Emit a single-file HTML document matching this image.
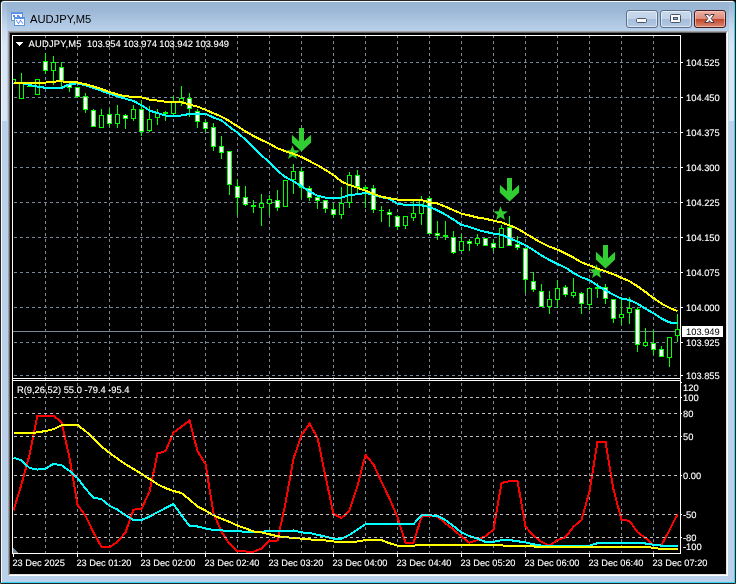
<!DOCTYPE html>
<html lang="en">
<head>
<meta charset="utf-8">
<title>AUDJPY,M5</title>
<style>
html,body{margin:0;padding:0;}
body{width:738px;height:584px;overflow:hidden;background:#fff;position:relative;font-family:"Liberation Sans",Arial,sans-serif;}
.corner{position:absolute;top:0;width:4px;height:4px;background:#000;}
.win{position:absolute;left:0;top:0;width:734px;height:582px;border:1px solid #262626;border-radius:4px 4px 0 0;
  background:linear-gradient(to bottom,#98b4d3 0px,#9db8d7 10px,#b4cce6 26px,#b9d1ea 31px,#b9d1ea 100%);overflow:hidden;}
.hl{position:absolute;left:0;top:0;width:732px;height:580px;border-style:solid;border-width:1px;border-color:#f7fafd #35d3f2 #35d3f2 #f7fafd;border-radius:3px 3px 0 0;}
.sl{position:absolute;top:1px;width:5px;height:119px;background:linear-gradient(to bottom,rgba(217,230,244,.05) 0,rgba(217,230,244,.4) 22px,rgba(217,230,244,1) 44px,#d9e6f4 100%);}
.title{position:absolute;left:29px;top:10px;height:16px;line-height:16px;font-size:11.2px;color:#000;white-space:nowrap;letter-spacing:0;}
.icon{position:absolute;left:10px;top:11px;width:14px;height:14px;}
.btn{position:absolute;top:9px;width:30px;height:16px;border:1px solid #5b6f8b;border-radius:3px;
  background:linear-gradient(to bottom,#c9d9ec 0,#c1d3e9 48%,#a6bedb 52%,#b2c8e2 100%);box-shadow:inset 0 0 0 1px rgba(255,255,255,.55);}
.btn.close{border-color:#431a20;background:linear-gradient(to bottom,#ecb1a4 0,#dc8b7c 48%,#c4452a 52%,#d88a73 100%);box-shadow:inset 0 0 0 1px rgba(255,210,200,.6);}
.btn svg{position:absolute;left:0;top:0;}
.client{position:absolute;left:7px;top:30px;width:718px;height:543px;border-style:solid;border-width:1px;border-color:#a0a0a0 #fff #fff #a0a0a0;}
.client2{position:absolute;left:0;top:0;width:716px;height:541px;border-style:solid;border-width:1px;border-color:#646464 #e3e3e3 #e3e3e3 #646464;background:#000;}
.chart{position:absolute;left:0;top:0;display:block;}
</style>
</head>
<body>
<div class="corner" style="left:0"></div><div class="corner" style="left:732px"></div>
<div class="win">
  <div class="hl"></div>
  <div class="sl" style="left:1px"></div><div class="sl" style="left:728px"></div>
  <svg class="icon" width="14" height="14" viewBox="0 0 14 14">
    <g shape-rendering="crispEdges">
    <rect x="0" y="0" width="12" height="9" fill="#5a90f8"/>
    <rect x="0.5" y="0.5" width="11" height="8" fill="none" stroke="#5c9fb0" stroke-dasharray="1 1"/>
    <rect x="1" y="2" width="10" height="6" fill="#fff"/>
    <rect x="2" y="3" width="2" height="2" fill="#5b8cf5"/><rect x="6" y="3" width="2" height="2" fill="#5b8cf5"/><rect x="8" y="4" width="1" height="1" fill="#5b8cf5"/>
    <rect x="3" y="5" width="11" height="9" fill="#5a90f8"/>
    <rect x="3.5" y="5.5" width="10" height="8" fill="none" stroke="#5c9fb0" stroke-dasharray="1 1"/>
    <rect x="4" y="7" width="9" height="6" fill="#fff"/>
    </g>
    <polyline points="5.3,8.3 7.5,11.5 9.5,8.5 11.7,11.5" fill="none" stroke="#4a7df0" stroke-width="1.1" stroke-dasharray="1.2 0.5"/>
  </svg>
  <div class="title">AUDJPY,M5</div>
  <div class="btn" style="left:625px"><svg width="30" height="16" viewBox="0 0 30 16"><rect x="9.5" y="7.5" width="10" height="4" rx="1" fill="#fafafa" stroke="#4a5568"/></svg></div>
  <div class="btn" style="left:659px"><svg width="30" height="16" viewBox="0 0 30 16"><rect x="9.5" y="3.5" width="10" height="8" rx="1" fill="#fafafa" stroke="#4a5568"/><rect x="12.5" y="6.5" width="4" height="2" fill="#8fa9cc" stroke="#4a5568"/></svg></div>
  <div class="btn close" style="left:693px"><svg width="30" height="16" viewBox="0 0 30 16"><path d="M9.8 3.5h3.5l1.2 1.8 1.2-1.8h3.5l-3 4 3 4h-3.5l-1.2-1.8-1.2 1.8h-3.5l3-4z" fill="#f8f8f8" stroke="#4a3a44" stroke-width="1" stroke-linejoin="round"/></svg></div>
  <div class="client"><div class="client2"><svg class="chart" width="716" height="541" viewBox="10 33 716 541" shape-rendering="crispEdges" text-rendering="geometricPrecision"><defs><clipPath id="cm"><rect x="13" y="36" width="667" height="342"/></clipPath><clipPath id="ci"><rect x="13" y="381" width="667" height="172"/></clipPath></defs><g stroke="#778899" stroke-width="1" stroke-dasharray="3 3" fill="none"><line x1="45.5" y1="35" x2="45.5" y2="553"/><line x1="77.5" y1="35" x2="77.5" y2="553"/><line x1="109.5" y1="35" x2="109.5" y2="553"/><line x1="141.5" y1="35" x2="141.5" y2="553"/><line x1="173.5" y1="35" x2="173.5" y2="553"/><line x1="205.5" y1="35" x2="205.5" y2="553"/><line x1="237.5" y1="35" x2="237.5" y2="553"/><line x1="269.5" y1="35" x2="269.5" y2="553"/><line x1="301.5" y1="35" x2="301.5" y2="553"/><line x1="333.5" y1="35" x2="333.5" y2="553"/><line x1="365.5" y1="35" x2="365.5" y2="553"/><line x1="397.5" y1="35" x2="397.5" y2="553"/><line x1="429.5" y1="35" x2="429.5" y2="553"/><line x1="461.5" y1="35" x2="461.5" y2="553"/><line x1="493.5" y1="35" x2="493.5" y2="553"/><line x1="525.5" y1="35" x2="525.5" y2="553"/><line x1="557.5" y1="35" x2="557.5" y2="553"/><line x1="589.5" y1="35" x2="589.5" y2="553"/><line x1="621.5" y1="35" x2="621.5" y2="553"/><line x1="653.5" y1="35" x2="653.5" y2="553"/><line x1="14" y1="62.5" x2="680" y2="62.5"/><line x1="14" y1="97.5" x2="680" y2="97.5"/><line x1="14" y1="132.5" x2="680" y2="132.5"/><line x1="14" y1="167.5" x2="680" y2="167.5"/><line x1="14" y1="202.5" x2="680" y2="202.5"/><line x1="14" y1="237.5" x2="680" y2="237.5"/><line x1="14" y1="272.5" x2="680" y2="272.5"/><line x1="14" y1="307.5" x2="680" y2="307.5"/><line x1="14" y1="342.5" x2="680" y2="342.5"/><line x1="14" y1="375.5" x2="680" y2="375.5"/></g>
<line x1="13" y1="331.5" x2="680" y2="331.5" stroke="#778899" stroke-width="1"/>
<g clip-path="url(#cm)"><rect x="13" y="79" width="1" height="5" fill="#00ff00"/><rect x="11" y="79" width="5" height="5" fill="#00ff00"/><rect x="12" y="80" width="3" height="3" fill="#000"/><rect x="21" y="73" width="1" height="26" fill="#00ff00"/><rect x="19" y="83" width="5" height="16" fill="#00ff00"/><rect x="20" y="84" width="3" height="14" fill="#000"/><rect x="29" y="86" width="1" height="1" fill="#00ff00"/><rect x="27" y="86" width="5" height="1" fill="#00ff00"/><rect x="37" y="79" width="1" height="16" fill="#00ff00"/><rect x="35" y="79" width="5" height="16" fill="#00ff00"/><rect x="36" y="80" width="3" height="14" fill="#000"/><rect x="45" y="53" width="1" height="21" fill="#00ff00"/><rect x="43" y="61" width="5" height="10" fill="#00ff00"/><rect x="44" y="62" width="3" height="8" fill="#fff"/><rect x="53" y="56" width="1" height="29" fill="#00ff00"/><rect x="51" y="62" width="5" height="9" fill="#00ff00"/><rect x="52" y="63" width="3" height="7" fill="#000"/><rect x="61" y="62" width="1" height="25" fill="#00ff00"/><rect x="59" y="67" width="5" height="14" fill="#00ff00"/><rect x="60" y="68" width="3" height="12" fill="#fff"/><rect x="69" y="81" width="1" height="11" fill="#00ff00"/><rect x="67" y="84" width="5" height="4" fill="#00ff00"/><rect x="68" y="85" width="3" height="2" fill="#fff"/><rect x="77" y="87" width="1" height="11" fill="#00ff00"/><rect x="75" y="87" width="5" height="10" fill="#00ff00"/><rect x="76" y="88" width="3" height="8" fill="#fff"/><rect x="85" y="93" width="1" height="20" fill="#00ff00"/><rect x="83" y="96" width="5" height="14" fill="#00ff00"/><rect x="84" y="97" width="3" height="12" fill="#fff"/><rect x="93" y="109" width="1" height="18" fill="#00ff00"/><rect x="91" y="110" width="5" height="17" fill="#00ff00"/><rect x="92" y="111" width="3" height="15" fill="#fff"/><rect x="101" y="109" width="1" height="19" fill="#00ff00"/><rect x="99" y="115" width="5" height="13" fill="#00ff00"/><rect x="100" y="116" width="3" height="11" fill="#000"/><rect x="109" y="109" width="1" height="18" fill="#00ff00"/><rect x="107" y="114" width="5" height="10" fill="#00ff00"/><rect x="108" y="115" width="3" height="8" fill="#fff"/><rect x="117" y="105" width="1" height="23" fill="#00ff00"/><rect x="115" y="114" width="5" height="10" fill="#00ff00"/><rect x="116" y="115" width="3" height="8" fill="#000"/><rect x="125" y="114" width="1" height="15" fill="#00ff00"/><rect x="123" y="115" width="5" height="4" fill="#00ff00"/><rect x="124" y="116" width="3" height="2" fill="#fff"/><rect x="133" y="105" width="1" height="16" fill="#00ff00"/><rect x="131" y="109" width="5" height="10" fill="#00ff00"/><rect x="132" y="110" width="3" height="8" fill="#000"/><rect x="141" y="100" width="1" height="36" fill="#00ff00"/><rect x="139" y="109" width="5" height="23" fill="#00ff00"/><rect x="140" y="110" width="3" height="21" fill="#fff"/><rect x="149" y="106" width="1" height="26" fill="#00ff00"/><rect x="147" y="119" width="5" height="12" fill="#00ff00"/><rect x="148" y="120" width="3" height="10" fill="#000"/><rect x="157" y="109" width="1" height="16" fill="#00ff00"/><rect x="155" y="113" width="5" height="5" fill="#00ff00"/><rect x="156" y="114" width="3" height="3" fill="#000"/><rect x="165" y="111" width="1" height="10" fill="#00ff00"/><rect x="163" y="112" width="5" height="2" fill="#00ff00"/><rect x="173" y="96" width="1" height="18" fill="#00ff00"/><rect x="171" y="102" width="5" height="12" fill="#00ff00"/><rect x="172" y="103" width="3" height="10" fill="#000"/><rect x="181" y="86" width="1" height="20" fill="#00ff00"/><rect x="179" y="98" width="5" height="4" fill="#00ff00"/><rect x="180" y="99" width="3" height="2" fill="#000"/><rect x="189" y="93" width="1" height="24" fill="#00ff00"/><rect x="187" y="98" width="5" height="11" fill="#00ff00"/><rect x="188" y="99" width="3" height="9" fill="#fff"/><rect x="197" y="109" width="1" height="19" fill="#00ff00"/><rect x="195" y="111" width="5" height="11" fill="#00ff00"/><rect x="196" y="112" width="3" height="9" fill="#fff"/><rect x="205" y="120" width="1" height="12" fill="#00ff00"/><rect x="203" y="122" width="5" height="7" fill="#00ff00"/><rect x="204" y="123" width="3" height="5" fill="#fff"/><rect x="213" y="123" width="1" height="28" fill="#00ff00"/><rect x="211" y="127" width="5" height="20" fill="#00ff00"/><rect x="212" y="128" width="3" height="18" fill="#fff"/><rect x="221" y="136" width="1" height="23" fill="#00ff00"/><rect x="219" y="146" width="5" height="7" fill="#00ff00"/><rect x="220" y="147" width="3" height="5" fill="#fff"/><rect x="229" y="151" width="1" height="44" fill="#00ff00"/><rect x="227" y="151" width="5" height="34" fill="#00ff00"/><rect x="228" y="152" width="3" height="32" fill="#fff"/><rect x="237" y="179" width="1" height="36" fill="#00ff00"/><rect x="235" y="186" width="5" height="12" fill="#00ff00"/><rect x="236" y="187" width="3" height="10" fill="#fff"/><rect x="245" y="186" width="1" height="20" fill="#00ff00"/><rect x="243" y="197" width="5" height="8" fill="#00ff00"/><rect x="244" y="198" width="3" height="6" fill="#fff"/><rect x="253" y="200" width="1" height="13" fill="#00ff00"/><rect x="251" y="205" width="5" height="2" fill="#00ff00"/><rect x="261" y="194" width="1" height="32" fill="#00ff00"/><rect x="259" y="203" width="5" height="5" fill="#00ff00"/><rect x="260" y="204" width="3" height="3" fill="#000"/><rect x="269" y="195" width="1" height="20" fill="#00ff00"/><rect x="267" y="199" width="5" height="5" fill="#00ff00"/><rect x="268" y="200" width="3" height="3" fill="#000"/><rect x="277" y="190" width="1" height="21" fill="#00ff00"/><rect x="275" y="200" width="5" height="8" fill="#00ff00"/><rect x="276" y="201" width="3" height="6" fill="#fff"/><rect x="285" y="180" width="1" height="27" fill="#00ff00"/><rect x="283" y="180" width="5" height="27" fill="#00ff00"/><rect x="284" y="181" width="3" height="25" fill="#000"/><rect x="293" y="164" width="1" height="30" fill="#00ff00"/><rect x="291" y="171" width="5" height="9" fill="#00ff00"/><rect x="292" y="172" width="3" height="7" fill="#000"/><rect x="301" y="167" width="1" height="32" fill="#00ff00"/><rect x="299" y="171" width="5" height="17" fill="#00ff00"/><rect x="300" y="172" width="3" height="15" fill="#fff"/><rect x="309" y="186" width="1" height="15" fill="#00ff00"/><rect x="307" y="188" width="5" height="10" fill="#00ff00"/><rect x="308" y="189" width="3" height="8" fill="#fff"/><rect x="317" y="196" width="1" height="13" fill="#00ff00"/><rect x="315" y="197" width="5" height="4" fill="#00ff00"/><rect x="316" y="198" width="3" height="2" fill="#fff"/><rect x="325" y="200" width="1" height="13" fill="#00ff00"/><rect x="323" y="200" width="5" height="9" fill="#00ff00"/><rect x="324" y="201" width="3" height="7" fill="#fff"/><rect x="333" y="203" width="1" height="15" fill="#00ff00"/><rect x="331" y="209" width="5" height="6" fill="#00ff00"/><rect x="332" y="210" width="3" height="4" fill="#fff"/><rect x="341" y="187" width="1" height="32" fill="#00ff00"/><rect x="339" y="203" width="5" height="12" fill="#00ff00"/><rect x="340" y="204" width="3" height="10" fill="#000"/><rect x="349" y="172" width="1" height="36" fill="#00ff00"/><rect x="347" y="175" width="5" height="28" fill="#00ff00"/><rect x="348" y="176" width="3" height="26" fill="#000"/><rect x="357" y="170" width="1" height="23" fill="#00ff00"/><rect x="355" y="175" width="5" height="12" fill="#00ff00"/><rect x="356" y="176" width="3" height="10" fill="#fff"/><rect x="365" y="185" width="1" height="23" fill="#00ff00"/><rect x="363" y="187" width="5" height="2" fill="#00ff00"/><rect x="373" y="185" width="1" height="28" fill="#00ff00"/><rect x="371" y="188" width="5" height="22" fill="#00ff00"/><rect x="372" y="189" width="3" height="20" fill="#fff"/><rect x="381" y="206" width="1" height="16" fill="#00ff00"/><rect x="379" y="210" width="5" height="1" fill="#00ff00"/><rect x="389" y="209" width="1" height="18" fill="#00ff00"/><rect x="387" y="212" width="5" height="3" fill="#00ff00"/><rect x="388" y="213" width="3" height="1" fill="#fff"/><rect x="397" y="215" width="1" height="15" fill="#00ff00"/><rect x="395" y="216" width="5" height="11" fill="#00ff00"/><rect x="396" y="217" width="3" height="9" fill="#fff"/><rect x="405" y="216" width="1" height="13" fill="#00ff00"/><rect x="403" y="216" width="5" height="10" fill="#00ff00"/><rect x="404" y="217" width="3" height="8" fill="#000"/><rect x="413" y="201" width="1" height="20" fill="#00ff00"/><rect x="411" y="213" width="5" height="5" fill="#00ff00"/><rect x="412" y="214" width="3" height="3" fill="#000"/><rect x="421" y="196" width="1" height="29" fill="#00ff00"/><rect x="419" y="200" width="5" height="14" fill="#00ff00"/><rect x="420" y="201" width="3" height="12" fill="#000"/><rect x="429" y="196" width="1" height="38" fill="#00ff00"/><rect x="427" y="198" width="5" height="36" fill="#00ff00"/><rect x="428" y="199" width="3" height="34" fill="#fff"/><rect x="437" y="221" width="1" height="19" fill="#00ff00"/><rect x="435" y="233" width="5" height="3" fill="#00ff00"/><rect x="436" y="234" width="3" height="1" fill="#fff"/><rect x="445" y="221" width="1" height="19" fill="#00ff00"/><rect x="443" y="235" width="5" height="2" fill="#00ff00"/><rect x="453" y="231" width="1" height="23" fill="#00ff00"/><rect x="451" y="237" width="5" height="16" fill="#00ff00"/><rect x="452" y="238" width="3" height="14" fill="#fff"/><rect x="461" y="234" width="1" height="17" fill="#00ff00"/><rect x="459" y="241" width="5" height="10" fill="#00ff00"/><rect x="460" y="242" width="3" height="8" fill="#000"/><rect x="469" y="239" width="1" height="12" fill="#00ff00"/><rect x="467" y="241" width="5" height="3" fill="#00ff00"/><rect x="468" y="242" width="3" height="1" fill="#fff"/><rect x="477" y="234" width="1" height="12" fill="#00ff00"/><rect x="475" y="238" width="5" height="6" fill="#00ff00"/><rect x="476" y="239" width="3" height="4" fill="#000"/><rect x="485" y="238" width="1" height="8" fill="#00ff00"/><rect x="483" y="238" width="5" height="8" fill="#00ff00"/><rect x="484" y="239" width="3" height="6" fill="#fff"/><rect x="493" y="239" width="1" height="12" fill="#00ff00"/><rect x="491" y="243" width="5" height="5" fill="#00ff00"/><rect x="492" y="244" width="3" height="3" fill="#fff"/><rect x="501" y="225" width="1" height="23" fill="#00ff00"/><rect x="499" y="228" width="5" height="20" fill="#00ff00"/><rect x="500" y="229" width="3" height="18" fill="#000"/><rect x="509" y="216" width="1" height="30" fill="#00ff00"/><rect x="507" y="227" width="5" height="19" fill="#00ff00"/><rect x="508" y="228" width="3" height="17" fill="#fff"/><rect x="517" y="236" width="1" height="14" fill="#00ff00"/><rect x="515" y="244" width="5" height="4" fill="#00ff00"/><rect x="516" y="245" width="3" height="2" fill="#fff"/><rect x="525" y="248" width="1" height="45" fill="#00ff00"/><rect x="523" y="248" width="5" height="32" fill="#00ff00"/><rect x="524" y="249" width="3" height="30" fill="#fff"/><rect x="533" y="272" width="1" height="20" fill="#00ff00"/><rect x="531" y="281" width="5" height="9" fill="#00ff00"/><rect x="532" y="282" width="3" height="7" fill="#fff"/><rect x="541" y="284" width="1" height="23" fill="#00ff00"/><rect x="539" y="291" width="5" height="16" fill="#00ff00"/><rect x="540" y="292" width="3" height="14" fill="#fff"/><rect x="549" y="291" width="1" height="23" fill="#00ff00"/><rect x="547" y="299" width="5" height="8" fill="#00ff00"/><rect x="548" y="300" width="3" height="6" fill="#000"/><rect x="557" y="280" width="1" height="28" fill="#00ff00"/><rect x="555" y="288" width="5" height="12" fill="#00ff00"/><rect x="556" y="289" width="3" height="10" fill="#000"/><rect x="565" y="285" width="1" height="12" fill="#00ff00"/><rect x="563" y="287" width="5" height="8" fill="#00ff00"/><rect x="564" y="288" width="3" height="6" fill="#fff"/><rect x="573" y="278" width="1" height="20" fill="#00ff00"/><rect x="571" y="292" width="5" height="4" fill="#00ff00"/><rect x="572" y="293" width="3" height="2" fill="#000"/><rect x="581" y="292" width="1" height="22" fill="#00ff00"/><rect x="579" y="293" width="5" height="11" fill="#00ff00"/><rect x="580" y="294" width="3" height="9" fill="#fff"/><rect x="589" y="288" width="1" height="22" fill="#00ff00"/><rect x="587" y="288" width="5" height="17" fill="#00ff00"/><rect x="588" y="289" width="3" height="15" fill="#000"/><rect x="597" y="283" width="1" height="15" fill="#00ff00"/><rect x="595" y="287" width="5" height="2" fill="#00ff00"/><rect x="605" y="284" width="1" height="20" fill="#00ff00"/><rect x="603" y="287" width="5" height="12" fill="#00ff00"/><rect x="604" y="288" width="3" height="10" fill="#fff"/><rect x="613" y="299" width="1" height="24" fill="#00ff00"/><rect x="611" y="299" width="5" height="20" fill="#00ff00"/><rect x="612" y="300" width="3" height="18" fill="#fff"/><rect x="621" y="299" width="1" height="26" fill="#00ff00"/><rect x="619" y="314" width="5" height="4" fill="#00ff00"/><rect x="620" y="315" width="3" height="2" fill="#000"/><rect x="629" y="297" width="1" height="27" fill="#00ff00"/><rect x="627" y="308" width="5" height="5" fill="#00ff00"/><rect x="628" y="309" width="3" height="3" fill="#000"/><rect x="637" y="307" width="1" height="45" fill="#00ff00"/><rect x="635" y="309" width="5" height="36" fill="#00ff00"/><rect x="636" y="310" width="3" height="34" fill="#fff"/><rect x="645" y="328" width="1" height="19" fill="#00ff00"/><rect x="643" y="342" width="5" height="4" fill="#00ff00"/><rect x="644" y="343" width="3" height="2" fill="#000"/><rect x="653" y="330" width="1" height="25" fill="#00ff00"/><rect x="651" y="343" width="5" height="7" fill="#00ff00"/><rect x="652" y="344" width="3" height="5" fill="#fff"/><rect x="661" y="346" width="1" height="11" fill="#00ff00"/><rect x="659" y="349" width="5" height="8" fill="#00ff00"/><rect x="660" y="350" width="3" height="6" fill="#fff"/><rect x="669" y="337" width="1" height="30" fill="#00ff00"/><rect x="667" y="337" width="5" height="21" fill="#00ff00"/><rect x="668" y="338" width="3" height="19" fill="#000"/><rect x="677" y="314" width="1" height="28" fill="#00ff00"/><rect x="675" y="329" width="5" height="7" fill="#00ff00"/><rect x="676" y="330" width="3" height="5" fill="#000"/></g>
<g shape-rendering="geometricPrecision"><polygon points="292.50,145.30 294.38,150.32 299.73,150.55 295.54,153.89 296.97,159.05 292.50,156.09 288.03,159.05 289.46,153.89 285.27,150.55 290.62,150.32" fill="#32cd32"/><polygon points="500.50,206.20 502.38,211.22 507.73,211.45 503.54,214.79 504.97,219.95 500.50,216.99 496.03,219.95 497.46,214.79 493.27,211.45 498.62,211.22" fill="#32cd32"/><polygon points="596.50,264.20 598.38,269.22 603.73,269.45 599.54,272.79 600.97,277.95 596.50,274.99 592.03,277.95 593.46,272.79 589.27,269.45 594.62,269.22" fill="#32cd32"/>
<polygon points="299.00,128.00 304.00,128.00 304.00,141.20 311.10,134.80 311.10,142.40 301.50,151.60 291.90,142.40 291.90,134.80 299.00,141.20" fill="#32cd32"/><polygon points="507.00,178.00 512.00,178.00 512.00,191.20 519.10,184.80 519.10,192.40 509.50,201.60 499.90,192.40 499.90,184.80 507.00,191.20" fill="#32cd32"/><polygon points="603.00,245.00 608.00,245.00 608.00,258.20 615.10,251.80 615.10,259.40 605.50,268.60 595.90,259.40 595.90,251.80 603.00,258.20" fill="#32cd32"/></g>
<g clip-path="url(#cm)"><polyline points="13.5,83.0 21.5,83.2 29.5,84.9 37.5,86.6 45.5,87.8 53.5,87.9 61.5,87.9 69.5,84.2 77.5,83.4 85.5,85.3 93.5,87.8 101.5,90.8 109.5,93.5 117.5,96.3 125.5,98.7 133.5,101.0 141.5,105.3 149.5,110.6 157.5,113.0 165.5,115.5 173.5,115.8 181.5,115.5 189.5,113.9 197.5,113.9 205.5,113.8 213.5,117.5 221.5,120.4 229.5,126.8 237.5,132.7 245.5,139.6 253.5,147.4 261.5,155.3 269.5,162.4 277.5,170.9 285.5,177.1 293.5,181.2 301.5,186.3 309.5,191.4 317.5,195.8 325.5,197.6 333.5,198.0 341.5,197.8 349.5,194.9 357.5,194.3 365.5,193.0 373.5,194.5 381.5,197.2 389.5,198.8 397.5,203.7 405.5,204.8 413.5,205.0 421.5,205.3 429.5,207.0 437.5,210.4 445.5,214.7 453.5,219.6 461.5,225.0 469.5,226.9 477.5,229.8 485.5,231.8 493.5,233.7 501.5,234.7 509.5,238.3 517.5,241.6 525.5,245.3 533.5,250.1 541.5,255.4 549.5,260.0 557.5,264.0 565.5,267.6 573.5,273.0 581.5,277.3 589.5,280.3 597.5,285.6 605.5,290.3 613.5,294.8 621.5,298.6 629.5,299.9 637.5,303.8 645.5,308.6 653.5,313.3 661.5,318.4 669.5,322.4 677.5,323.2" fill="none" stroke="#00ffff" stroke-width="2" stroke-linejoin="round"/><polyline points="13.5,83.0 21.5,83.0 29.5,83.0 37.5,83.0 45.5,82.6 53.5,81.6 61.5,81.3 69.5,82.2 77.5,82.5 85.5,84.2 93.5,86.5 101.5,89.1 109.5,92.0 117.5,94.4 125.5,96.3 133.5,96.8 141.5,97.3 149.5,99.6 157.5,100.6 165.5,101.7 173.5,102.0 181.5,102.2 189.5,104.5 197.5,106.6 205.5,109.8 213.5,113.3 221.5,116.6 229.5,121.2 237.5,126.2 245.5,131.5 253.5,136.0 261.5,140.0 269.5,143.7 277.5,148.3 285.5,151.3 293.5,153.8 301.5,157.0 309.5,161.1 317.5,165.2 325.5,170.0 333.5,175.0 341.5,181.6 349.5,185.1 357.5,187.7 365.5,190.7 373.5,193.9 381.5,196.7 389.5,198.3 397.5,199.6 405.5,200.0 413.5,200.1 421.5,200.1 429.5,202.3 437.5,203.5 445.5,206.6 453.5,210.3 461.5,213.6 469.5,215.5 477.5,217.5 485.5,218.8 493.5,220.7 501.5,222.4 509.5,225.3 517.5,228.6 525.5,233.5 533.5,238.2 541.5,242.9 549.5,246.6 557.5,249.6 565.5,253.5 573.5,257.5 581.5,262.4 589.5,265.3 597.5,268.6 605.5,271.4 613.5,274.2 621.5,277.9 629.5,281.2 637.5,286.3 645.5,292.0 653.5,298.0 661.5,303.6 669.5,307.9 677.5,311.2" fill="none" stroke="#ffff00" stroke-width="2" stroke-linejoin="round"/></g>
<g clip-path="url(#ci)"><polyline points="13.5,510.5 21.5,484.3 29.5,454.8 37.5,415.6 45.5,415.6 53.5,415.6 61.5,422.3 69.5,457.6 77.5,504.8 85.5,515.9 93.5,532.4 101.5,547.0 109.5,547.0 117.5,541.9 125.5,532.4 133.5,509.6 141.5,509.0 149.5,491.5 157.5,453.5 165.5,451.1 173.5,432.7 181.5,426.7 189.5,420.5 197.5,451.1 205.5,464.1 213.5,513.0 221.5,531.7 229.5,543.9 237.5,551.2 245.5,551.5 253.5,551.7 261.5,548.5 269.5,540.9 277.5,540.5 285.5,503.0 293.5,458.6 301.5,435.2 309.5,423.5 317.5,437.7 325.5,476.4 333.5,514.0 341.5,518.1 349.5,510.2 357.5,485.9 365.5,454.8 373.5,464.5 381.5,482.0 389.5,498.5 397.5,517.2 405.5,542.8 413.5,542.8 421.5,516.6 429.5,516.2 437.5,516.6 445.5,523.4 453.5,529.5 461.5,536.7 469.5,542.8 477.5,540.0 485.5,536.2 493.5,529.5 501.5,483.0 509.5,481.1 517.5,481.1 525.5,526.7 533.5,535.6 541.5,541.9 549.5,545.6 557.5,540.0 565.5,537.1 573.5,526.7 581.5,520.0 589.5,491.6 597.5,441.5 605.5,441.5 613.5,489.5 621.5,519.8 629.5,520.9 637.5,532.1 645.5,538.0 653.5,545.0 661.5,545.1 669.5,530.0 677.5,514.4" fill="none" stroke="#ff0000" stroke-width="2" stroke-linejoin="round"/><polyline points="13.5,457.6 21.5,460.5 29.5,468.0 37.5,469.6 45.5,468.6 53.5,463.9 61.5,465.2 69.5,470.9 77.5,478.0 85.5,488.7 93.5,497.6 101.5,499.2 109.5,505.8 117.5,509.6 125.5,515.3 133.5,520.0 141.5,520.0 149.5,516.6 157.5,512.2 165.5,508.1 173.5,504.0 181.5,515.4 189.5,526.0 197.5,526.5 205.5,528.4 213.5,530.0 221.5,530.4 229.5,530.9 237.5,531.3 245.5,531.7 253.5,532.0 261.5,531.8 269.5,531.0 277.5,531.0 285.5,530.7 293.5,530.5 301.5,532.4 309.5,532.9 317.5,534.8 325.5,536.7 333.5,538.6 341.5,538.6 349.5,534.8 357.5,529.5 365.5,524.2 373.5,524.2 381.5,524.2 389.5,524.2 397.5,524.2 405.5,524.2 413.5,524.2 421.5,515.3 429.5,515.3 437.5,515.9 445.5,520.0 453.5,526.1 461.5,532.4 469.5,536.2 477.5,538.6 485.5,541.9 493.5,541.9 501.5,540.1 509.5,540.1 517.5,541.2 525.5,542.4 533.5,544.3 541.5,545.6 549.5,546.2 557.5,546.2 565.5,546.2 573.5,546.2 581.5,546.2 589.5,545.6 597.5,543.2 605.5,542.8 613.5,542.8 621.5,542.8 629.5,542.8 637.5,542.8 645.5,543.5 653.5,544.8 661.5,545.6 669.5,545.6 677.5,545.6" fill="none" stroke="#00ffff" stroke-width="2" stroke-linejoin="round"/><polyline points="13.5,433.0 21.5,433.0 29.5,433.0 37.5,432.4 45.5,431.0 53.5,429.2 61.5,425.4 69.5,424.8 77.5,425.0 85.5,431.0 93.5,438.6 101.5,446.6 109.5,452.9 117.5,458.6 125.5,464.3 133.5,469.0 141.5,473.8 149.5,479.0 157.5,484.2 165.5,488.1 173.5,491.0 181.5,493.0 189.5,499.5 197.5,506.5 205.5,510.5 213.5,515.4 221.5,518.7 229.5,521.9 237.5,525.5 245.5,528.4 253.5,531.5 261.5,532.4 269.5,534.3 277.5,536.2 285.5,537.1 293.5,538.1 301.5,538.6 309.5,539.4 317.5,540.0 325.5,540.5 333.5,541.5 341.5,541.9 349.5,541.9 357.5,541.5 365.5,540.0 373.5,540.0 381.5,540.2 389.5,543.2 397.5,545.6 405.5,545.6 413.5,545.6 421.5,545.0 429.5,545.0 437.5,545.0 445.5,545.0 453.5,545.0 461.5,545.0 469.5,545.0 477.5,545.0 485.5,545.0 493.5,545.0 501.5,545.4 509.5,546.1 517.5,546.1 525.5,546.1 533.5,546.4 541.5,547.2 549.5,547.2 557.5,547.2 565.5,547.2 573.5,547.2 581.5,547.2 589.5,547.2 597.5,547.2 605.5,547.2 613.5,547.0 621.5,547.0 629.5,547.0 637.5,547.0 645.5,547.0 653.5,547.7 661.5,549.1 669.5,549.1 677.5,549.1" fill="none" stroke="#ffff00" stroke-width="2" stroke-linejoin="round"/></g>
<g stroke="#c0c0c0" stroke-width="1" stroke-dasharray="3 3" fill="none"><line x1="14" y1="397.5" x2="680" y2="397.5"/><line x1="14" y1="413.5" x2="680" y2="413.5"/><line x1="14" y1="436.5" x2="680" y2="436.5"/><line x1="14" y1="475.5" x2="680" y2="475.5"/><line x1="14" y1="514.5" x2="680" y2="514.5"/><line x1="14" y1="537.5" x2="680" y2="537.5"/></g>
<polygon points="13,548 13,553 18,553" fill="#778899"/>
<g fill="#fff"><rect x="12" y="35" width="1" height="519"/><rect x="680" y="35" width="1" height="519"/><rect x="12" y="35" width="669" height="1"/><rect x="12" y="378" width="669" height="1"/><rect x="12" y="380" width="669" height="1"/><rect x="12" y="553" width="669" height="1"/><rect x="681" y="62" width="2" height="1"/><rect x="681" y="97" width="2" height="1"/><rect x="681" y="132" width="2" height="1"/><rect x="681" y="167" width="2" height="1"/><rect x="681" y="202" width="2" height="1"/><rect x="681" y="237" width="2" height="1"/><rect x="681" y="272" width="2" height="1"/><rect x="681" y="307" width="2" height="1"/><rect x="681" y="342" width="2" height="1"/><rect x="681" y="375" width="2" height="1"/><rect x="681" y="397" width="1" height="1"/><rect x="681" y="413" width="1" height="1"/><rect x="681" y="436" width="1" height="1"/><rect x="681" y="475" width="1" height="1"/><rect x="681" y="514" width="1" height="1"/><rect x="681" y="537" width="1" height="1"/><rect x="681" y="382" width="1" height="1"/><rect x="13" y="554" width="1" height="3"/><rect x="77" y="554" width="1" height="3"/><rect x="141" y="554" width="1" height="3"/><rect x="205" y="554" width="1" height="3"/><rect x="269" y="554" width="1" height="3"/><rect x="333" y="554" width="1" height="3"/><rect x="397" y="554" width="1" height="3"/><rect x="461" y="554" width="1" height="3"/><rect x="525" y="554" width="1" height="3"/><rect x="589" y="554" width="1" height="3"/><rect x="653" y="554" width="1" height="3"/></g>
<g fill="#fff" stroke="#fff" stroke-width="0.12" font-family="'Liberation Sans', Arial, sans-serif" font-size="9.33"><text x="686" y="66">104.525</text><text x="686" y="101">104.450</text><text x="686" y="136">104.375</text><text x="686" y="171">104.300</text><text x="686" y="206">104.225</text><text x="686" y="241">104.150</text><text x="686" y="276">104.075</text><text x="686" y="311">104.000</text><text x="686" y="346">103.925</text><text x="686" y="379">103.855</text><text x="683" y="390.5">120</text><text x="683" y="401.0">100</text><text x="683" y="417.0">80</text><text x="683" y="440.0">50</text><text x="683" y="479.0">0.00</text><text x="683" y="518.0">-50</text><text x="683" y="541.0">-80</text><text x="683" y="550.0">-100</text><text x="12.4" y="566" font-size="9.25">23 Dec 2025</text><text x="76.4" y="566" font-size="9.25">23 Dec 01:20</text><text x="140.4" y="566" font-size="9.25">23 Dec 02:00</text><text x="204.4" y="566" font-size="9.25">23 Dec 02:40</text><text x="268.4" y="566" font-size="9.25">23 Dec 03:20</text><text x="332.4" y="566" font-size="9.25">23 Dec 04:00</text><text x="396.4" y="566" font-size="9.25">23 Dec 04:40</text><text x="460.4" y="566" font-size="9.25">23 Dec 05:20</text><text x="524.4" y="566" font-size="9.25">23 Dec 06:00</text><text x="588.4" y="566" font-size="9.25">23 Dec 06:40</text><text x="652.4" y="566" font-size="9.25">23 Dec 07:20</text><text y="47"><tspan x="28.6" textLength="52.8">AUDJPY,M5</tspan> <tspan x="87">103.954</tspan> <tspan x="123.2">103.974</tspan> <tspan x="159.2">103.942</tspan> <tspan x="195.3">103.949</tspan></text><text x="17" y="393">R(9,26,52) 55.0 -79.4 -95.4</text></g>
<polygon points="16,42 23,42 19.5,46" fill="#fff"/>
<rect x="682" y="326" width="41" height="11" fill="#fff"/>
<text x="686" y="335" fill="#000" font-family="'Liberation Sans', Arial, sans-serif" font-size="9.33">103.949</text></svg></div></div>
</div>
</body>
</html>
